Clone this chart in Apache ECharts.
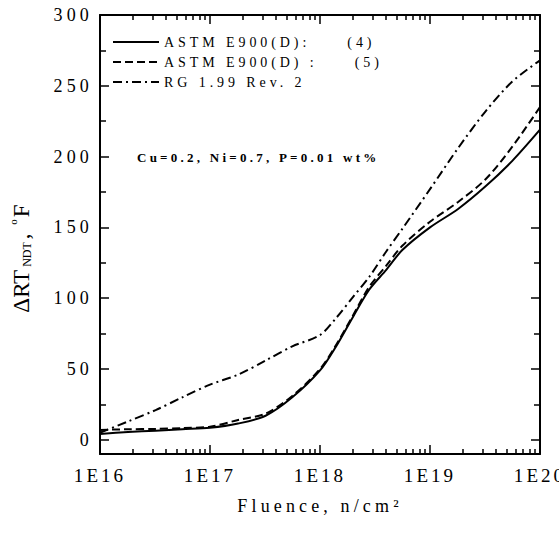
<!DOCTYPE html>
<html>
<head>
<meta charset="utf-8">
<script src="https://cdn.jsdelivr.net/npm/echarts@6/dist/echarts.min.js"></script>
<style>
html,body{margin:0;padding:0;background:#fff;}
#c{width:559px;height:533px;}
#c text[style*="14px"]{letter-spacing:0.28em;}
#c text[style*="13px"]{letter-spacing:0.25em;}
#c text[style*="18px"]{letter-spacing:0.23em;}
#c text[style*="19px"]{letter-spacing:0.16em;}
</style>
</head>
<body>
<div id="c"></div>
<script>
// Fluence values (n/cm^2)
var fluence = [1e16, 1.8e16, 3.2e16, 5.6e16, 1e17, 1.8e17, 3.2e17, 5.6e17, 1e18, 1.4e18, 2e18, 2.8e18, 4e18, 5.6e18, 1e19, 1.8e19, 3.2e19, 5.6e19, 1e20];
// Delta RT_NDT (°F)
var astm4 = [4.2, 5.5, 6.5, 7.5, 8.5, 11.5, 17, 30, 49, 66, 87, 106, 120, 134, 150, 163, 179, 197, 219];
var astm5 = [7, 7.5, 7.7, 8.3, 9.3, 14, 18.5, 31, 50, 67, 88, 108, 123, 137, 154, 168, 184, 207, 235];
var rg199 = [5, 13, 21, 30, 39, 46, 56, 66, 74, 86, 101, 115, 133, 149, 177, 206, 232, 253, 268];
var seriesNames = ['ASTM E900(D):     (4)', 'ASTM E900(D) :     (5)', 'RG 1.99 Rev. 2'];
var xMajor = [1e16, 1e17, 1e18, 1e19, 1e20];
var xMinor = [];
[1e16, 1e17, 1e18, 1e19].forEach(function (d) { for (var k = 2; k <= 9; k++) xMinor.push(k * d); });
var yMajor = [0, 50, 100, 150, 200, 250, 300];
var yMinor = [25, 75, 125, 175, 225, 275];
var annotation = 'Cu=0.2, Ni=0.7, P=0.01 wt%';
var xTitle = 'Fluence, n/cm²';

var SERIF = 'Liberation Serif';
function pairs(ys) { return fluence.map(function (f, i) { return [f, ys[i]]; }); }

function xAx(pos, ticks, len, showLine, showLabel) {
  return {
    type: 'log', logBase: 10, min: 1e16, max: 1e20, position: pos,
    axisLine: { show: showLine, onZero: false, lineStyle: { color: '#000', width: 2 } },
    axisTick: { show: true, inside: true, length: len, customValues: ticks, lineStyle: { color: '#000', width: 1.5 } },
    axisLabel: showLabel ? {
      show: true, customValues: xMajor, margin: 12, color: '#000', fontFamily: SERIF, fontSize: 19,
      formatter: function (v) { return '1E' + Math.round(Math.log10(v)); }
    } : { show: false },
    splitLine: { show: false }, minorTick: { show: false }
  };
}
function yAx(pos, ticks, len, showLine, showLabel) {
  return {
    type: 'value', min: -10, max: 300, position: pos,
    axisLine: { show: showLine, onZero: false, lineStyle: { color: '#000', width: 2 } },
    axisTick: { show: true, inside: true, length: len, customValues: ticks, lineStyle: { color: '#000', width: 1.5 } },
    axisLabel: showLabel ? { show: true, customValues: yMajor, margin: 7, color: '#000', fontFamily: SERIF, fontSize: 18 } : { show: false },
    splitLine: { show: false }
  };
}

var xAxes = [xAx('bottom', xMajor, 9, true, true), xAx('bottom', xMinor, 5, false, false), xAx('top', xMajor, 9, true, false), xAx('top', xMinor, 5, false, false)];
xAxes[0].name = xTitle;
xAxes[0].nameLocation = 'middle';
xAxes[0].nameGap = 43;
xAxes[0].nameTextStyle = { fontFamily: SERIF, fontSize: 18, color: '#000' };

var yAxes = [yAx('left', yMajor, 9, true, true), yAx('left', yMinor, 6, false, false), yAx('right', yMajor, 9, true, false), yAx('right', yMinor, 6, false, false)];
yAxes[0].name = '{a|ΔRT}{b|NDT}{a|, }{c|o}{a|F}';
yAxes[0].nameLocation = 'middle';
yAxes[0].nameRotate = 90;
yAxes[0].nameGap = 67;
yAxes[0].nameTextStyle = {
  padding: [0, 45, 0, 0],
  rich: {
    a: { fontFamily: SERIF, fontSize: 23, color: '#000', lineHeight: 26, verticalAlign: 'bottom', padding: [0, 3, 0, 0] },
    b: { fontFamily: SERIF, fontSize: 12, color: '#000', lineHeight: 26, verticalAlign: 'bottom', padding: [0, 3, 0, 0] },
    c: { fontFamily: SERIF, fontSize: 11, color: '#000', lineHeight: 26, verticalAlign: 'top', padding: [0, 2, 0, 0] }
  }
};

var styles = [
  { type: 'solid', width: 2 },
  { type: [8, 4], width: 2 },
  { type: [9, 4, 2, 4], width: 2 }
];
var datasets = [astm4, astm5, rg199];

var chart = echarts.init(document.getElementById('c'), null, { renderer: 'svg' });
chart.setOption({
  animation: false,
  backgroundColor: '#fff',
  title: {
    text: annotation, left: 137, top: 151, padding: 0,
    textStyle: { fontFamily: SERIF, fontSize: 13, fontWeight: 'bold', color: '#000' }
  },
  grid: { left: 100, right: 19, top: 15, bottom: 79, outerBoundsMode: 'none' },
  xAxis: xAxes,
  yAxis: yAxes,
  legend: {
    orient: 'vertical', left: 107, top: 30, itemWidth: 46, itemHeight: 14, itemGap: 6,
    data: seriesNames,
    itemStyle: { opacity: 0 },
    textStyle: { fontFamily: SERIF, fontSize: 14, color: '#000' }
  },
  series: datasets.map(function (d, i) {
    return {
      name: seriesNames[i], type: 'line', xAxisIndex: 0, yAxisIndex: 0,
      data: pairs(d), symbol: 'none', smooth: 0.3,
      lineStyle: Object.assign({ color: '#000' }, styles[i])
    };
  })
});
</script>
</body>
</html>
